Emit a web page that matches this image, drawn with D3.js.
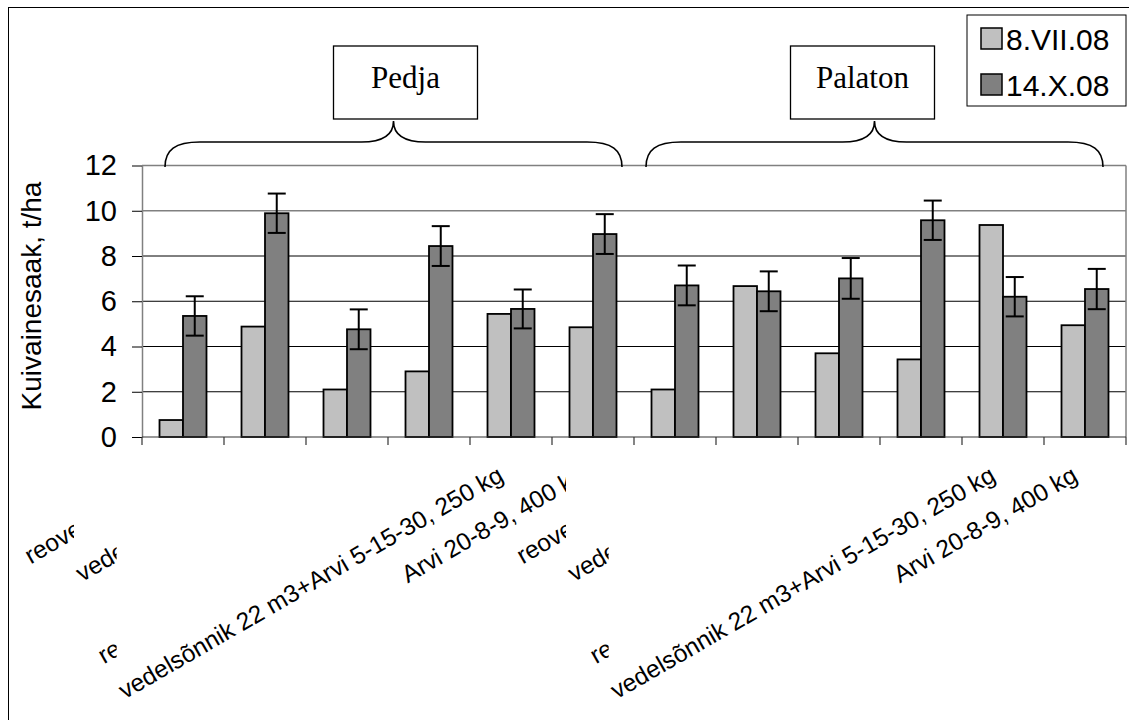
<!DOCTYPE html>
<html>
<head>
<meta charset="utf-8">
<script src="https://cdn.jsdelivr.net/npm/d3@7"></script>
<style>
  body { margin: 0; background: #fff; }
  svg { display: block; }
</style>
</head>
<body>
<main></main>
<script>
// Treatments (same six for both sites); the long rotated labels overlap in the original,
// so most of them are only partly visible
const categories = [
    "reoveesete 20 t", "vedelsõnnik 44 m3", "kontroll", "reoveesete + Arvi 5-15-30, 250 kg",
    "vedelsõnnik 22 m3+Arvi 5-15-30, 250 kg", "Arvi 20-8-9, 400 kg",
    "reoveesete 20 t", "vedelsõnnik 44 m3", "kontroll", "reoveesete + Arvi 5-15-30, 250 kg",
    "vedelsõnnik 22 m3+Arvi 5-15-30, 250 kg", "Arvi 20-8-9, 400 kg"
];
// which later label hides the right part of each label (null = fully shown)
const labelHiddenBy = [1, 4, 3, 4, null, 7, 7, 10, 9, 10, null, null];

const seriesNames = ["8.VII.08", "14.X.08"];
const july = [0.75, 4.88, 2.1, 2.9, 5.44, 4.85, 2.1, 6.67, 3.7, 3.43, 9.37, 4.94];
const october = [5.35, 9.89, 4.76, 8.44, 5.66, 8.97, 6.7, 6.44, 7.01, 9.58, 6.2, 6.54];
const octoberErr = [0.87, 0.87, 0.88, 0.88, 0.86, 0.88, 0.88, 0.88, 0.9, 0.87, 0.87, 0.89];

const sites = ["Pedja", "Palaton"];
const yTicks = [0, 2, 4, 6, 8, 10, 12];
const yTitle = "Kuivainesaak, t/ha";

function drawChart() {
    let width = 1129;
    let height = 720;
    const plot = { left: 142, right: 1126, top: 165.5, bottom: 437 };
    const colors = ["#c0c0c0", "#808080"];
    const sans = "'Liberation Sans', Arial, sans-serif";
    const serif = "'Liberation Serif', 'Times New Roman', serif";

    let svg = d3.select("main")
        .append("svg")
        .attr("width", width)
        .attr("height", height);

    // outer frame (only top and left edges are inside the picture)
    svg.append("rect")
        .attr("x", 8.5).attr("y", 7.5)
        .attr("width", width + 20).attr("height", height + 20)
        .attr("fill", "#fff")
        .attr("stroke", "#000")
        .attr("stroke-width", 1);

    let x0 = d3.scaleBand()
        .domain(d3.range(categories.length))
        .range([plot.left, plot.right]);

    let x1 = d3.scaleBand()
        .domain([0, 1])
        .range([0, x0.bandwidth()])
        .paddingOuter(0.745);

    let y = d3.scaleLinear()
        .domain([0, 12])
        .range([plot.bottom, plot.top]);

    // gridlines
    svg.append("g")
        .selectAll("line")
        .data(yTicks.filter(d => d > 0))
        .join("line")
        .attr("x1", plot.left).attr("x2", plot.right)
        .attr("y1", d => y(d)).attr("y2", d => y(d))
        .attr("stroke", d => d >= 10 ? "#808080" : "#000")
        .attr("stroke-width", d => d >= 10 ? 1.6 : 1);

    // right border of plot area
    svg.append("line")
        .attr("x1", plot.right).attr("x2", plot.right)
        .attr("y1", plot.top).attr("y2", plot.bottom)
        .attr("stroke", "#808080").attr("stroke-width", 1.5);

    // bars
    const rows = categories.map((c, i) => ({ i: i, vals: [july[i], october[i]], err: octoberErr[i] }));
    const groups = svg.append("g").attr("id", "bars")
        .selectAll("g")
        .data(rows)
        .join("g")
        .attr("transform", d => "translate(" + x0(d.i) + ",0)");

    groups.selectAll("rect")
        .data(d => d.vals.map((v, k) => ({ k: k, v: v })))
        .join("rect")
        .attr("x", d => x1(d.k))
        .attr("y", d => y(d.v))
        .attr("width", x1.bandwidth())
        .attr("height", d => y(0) - y(d.v))
        .attr("fill", d => colors[d.k])
        .attr("stroke", "#000")
        .attr("stroke-width", 1.8);

    // error bars on October series
    const eb = groups.append("g")
        .attr("transform", "translate(" + (x1(1) + x1.bandwidth() / 2) + ",0)")
        .attr("stroke", "#000")
        .attr("stroke-width", 2);
    eb.append("line")
        .attr("y1", d => y(d.vals[1] + d.err)).attr("y2", d => y(d.vals[1] - d.err));
    eb.append("line")
        .attr("x1", -9).attr("x2", 9)
        .attr("y1", d => y(d.vals[1] + d.err)).attr("y2", d => y(d.vals[1] + d.err));
    eb.append("line")
        .attr("x1", -9).attr("x2", 9)
        .attr("y1", d => y(d.vals[1] - d.err)).attr("y2", d => y(d.vals[1] - d.err));

    // y axis
    const yAxis = svg.append("g")
        .attr("transform", "translate(" + plot.left + ",0)")
        .call(d3.axisLeft(y).tickValues(yTicks).tickSize(10).tickSizeOuter(0));
    yAxis.select(".domain").attr("stroke", "#808080").attr("stroke-width", 1.5);
    yAxis.selectAll(".tick line").attr("stroke", "#000");
    yAxis.selectAll(".tick text")
        .attr("x", -25)
        .attr("font-family", sans)
        .attr("font-size", 29)
        .attr("fill", "#000");

    // x axis line and category ticks
    svg.append("line")
        .attr("x1", plot.left).attr("x2", plot.right)
        .attr("y1", plot.bottom).attr("y2", plot.bottom)
        .attr("stroke", "#333").attr("stroke-width", 1.2);
    svg.append("g")
        .selectAll("line")
        .data(d3.range(categories.length + 1))
        .join("line")
        .attr("x1", d => plot.left + d * x0.step())
        .attr("x2", d => plot.left + d * x0.step())
        .attr("y1", plot.bottom).attr("y2", plot.bottom + 8)
        .attr("stroke", "#333").attr("stroke-width", 1.2);

    // y title
    svg.append("text")
        .attr("transform", "translate(41,296) rotate(-90)")
        .attr("text-anchor", "middle")
        .attr("font-family", sans)
        .attr("font-size", 28)
        .text(yTitle);

    // rotated category labels
    const angle = 30;
    const rad = angle * Math.PI / 180;
    const defs = svg.append("defs");
    const labelG = svg.append("g").attr("id", "xlabels");
    const labels = categories.map((c, i) => {
        const outer = labelG.append("g");
        const cx = x0(i) + x0.bandwidth() / 2 - 6;
        const t = outer.append("text")
            .attr("transform", "translate(" + cx + ",480) rotate(-" + angle + ")")
            .attr("text-anchor", "end")
            .attr("font-family", sans)
            .attr("font-size", 24.5)
            .text(c);
        const len = t.node().getComputedTextLength();
        return { g: outer, startX: cx - len * Math.cos(rad) };
    });
    labels.forEach((l, i) => {
        const by = labelHiddenBy[i];
        if (by === null) return;
        defs.append("clipPath")
            .attr("id", "lclip" + i)
            .append("rect")
            .attr("x", 0).attr("y", 0)
            .attr("width", Math.max(0, labels[by].startX - 8))
            .attr("height", height);
        l.g.attr("clip-path", "url(#lclip" + i + ")");
    });

    // braces with site name boxes
    const n = categories.length / sites.length;
    const braceInset = [[23, 12], [12, 23]];
    const boxShift = [12, -12];
    sites.forEach((s, k) => {
        const xL = x0(k * n) + braceInset[k][0];
        const xR = x0(k * n) + n * x0.step() - braceInset[k][1];
        const xm = (xL + xR) / 2;
        const yb = 167, yh = 142, yt = 121;
        const p = d3.path();
        p.moveTo(xL, yb);
        p.bezierCurveTo(xL, yh + 8, xL + 10, yh, xL + 35, yh);
        p.lineTo(xm - 32, yh);
        p.bezierCurveTo(xm - 10, yh, xm, yh - 7, xm, yt);
        p.bezierCurveTo(xm, yh - 7, xm + 10, yh, xm + 32, yh);
        p.lineTo(xR - 35, yh);
        p.bezierCurveTo(xR - 10, yh, xR, yh + 8, xR, yb);
        svg.append("path")
            .attr("d", p.toString())
            .attr("fill", "none")
            .attr("stroke", "#000")
            .attr("stroke-width", 1.6);

        const bx = xm + boxShift[k];
        svg.append("rect")
            .attr("x", bx - 72).attr("y", 46)
            .attr("width", 144).attr("height", 73)
            .attr("fill", "#fff")
            .attr("stroke", "#000")
            .attr("stroke-width", 1.3);
        svg.append("text")
            .attr("x", bx).attr("y", 88)
            .attr("text-anchor", "middle")
            .attr("font-family", serif)
            .attr("font-size", 31)
            .text(s);
    });

    // legend
    const legend = svg.append("g").attr("transform", "translate(967,15)");
    legend.append("rect")
        .attr("width", 159).attr("height", 91)
        .attr("fill", "#fff")
        .attr("stroke", "#000")
        .attr("stroke-width", 1);
    seriesNames.forEach((s, k) => {
        legend.append("rect")
            .attr("x", 14).attr("y", 13 + k * 46)
            .attr("width", 21).attr("height", 21)
            .attr("fill", colors[k])
            .attr("stroke", "#000")
            .attr("stroke-width", 1.5);
        legend.append("text")
            .attr("x", 39).attr("y", 35 + k * 46)
            .attr("font-family", sans)
            .attr("font-size", 30)
            .text(s);
    });
}

drawChart();
</script>
</body>
</html>
